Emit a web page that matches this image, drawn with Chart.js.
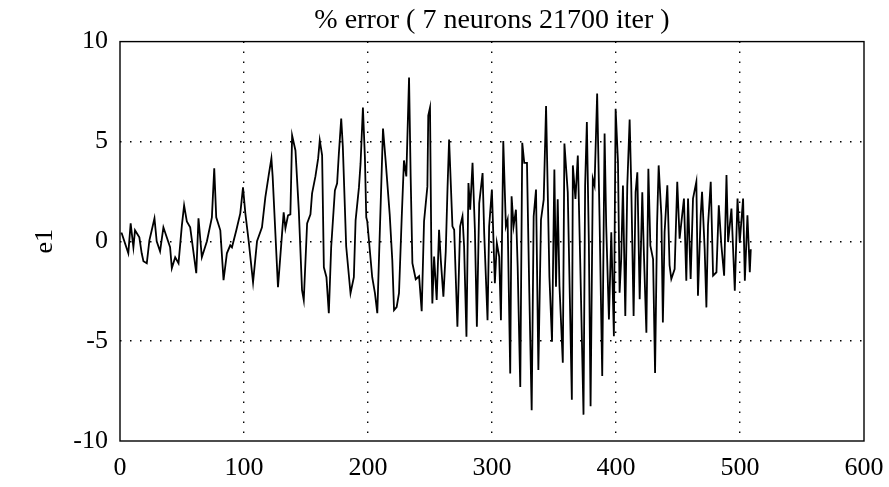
<!DOCTYPE html>
<html>
<head>
<meta charset="utf-8">
<script src="https://cdn.jsdelivr.net/npm/chart.js@4.4.1/dist/chart.umd.min.js"></script>
<style>
  html, body { margin: 0; padding: 0; background: #fff; }
  #wrap { width: 889px; height: 487px; position: relative; }
</style>
</head>
<body>
<div id="wrap"><canvas id="errChart"></canvas></div>
<script>
// sample index (x) and % error e1 at its turning points
const xValues = [
  0.5, 1.4, 2.7, 6.7, 8.6, 10.8, 12.1, 15.6, 17.5, 18.9, 21.6, 23.7, 25.6, 27.8, 29.6,
  32.3, 35.0, 37.7, 40.4, 41.8, 44.5, 47.2, 49.9, 51.7, 53.9, 56.6, 61.5, 63.3, 66.0, 70.1,
  74.1, 76.0, 77.6, 80.9, 83.5, 86.2, 88.9, 90.3, 93.8, 97.0, 99.2, 101.1, 103.8, 107.3, 110.5,
  114.5, 117.2, 119.9, 122.1, 123.1, 127.4, 130.7, 132.0, 133.4, 135.5, 137.4, 138.8, 141.5, 144.2, 146.8,
  148.2, 150.9, 153.6, 154.9, 157.6, 159.8, 161.1, 163.0, 164.4, 166.5, 168.4, 170.3, 173.3, 175.1, 176.5,
  178.4, 179.7, 182.4, 185.9, 188.6, 190.0, 192.7, 194.0, 195.9, 197.5, 198.6, 199.4, 203.4, 205.6, 207.5,
  212.1, 214.2, 217.5, 219.6, 221.0, 223.1, 225.0, 227.2, 229.0, 230.9, 233.1, 234.4, 235.8, 238.5, 241.2,
  243.3, 245.2, 247.9, 248.6, 250.0, 251.1, 251.9, 253.3, 255.4, 257.3, 258.7, 260.8, 262.7, 264.1, 265.4,
  268.1, 269.5, 272.1, 274.3, 276.2, 277.5, 279.4, 281.0, 282.4, 284.3, 286.2, 287.8, 289.7, 292.4, 293.7,
  296.4, 297.7, 299.9, 302.3, 303.9, 305.8, 307.2, 309.1, 311.2, 312.6, 314.7, 315.8, 317.4, 319.3, 320.7,
  322.8, 324.4, 326.0, 328.2, 330.1, 332.0, 333.6, 335.5, 337.4, 339.5, 341.7, 343.6, 346.3, 348.4, 350.3,
  351.6, 353.0, 354.4, 357.1, 358.4, 361.1, 364.4, 365.2, 367.3, 369.2, 371.1, 373.8, 375.1, 376.5, 378.1,
  379.5, 381.3, 382.7, 384.8, 386.7, 388.9, 390.8, 392.1, 394.3, 396.2, 398.3, 399.7, 401.6, 402.9, 404.2,
  405.6, 407.5, 409.1, 411.0, 412.3, 414.2, 415.8, 417.2, 419.1, 421.2, 422.3, 424.5, 426.1, 427.7, 429.9,
  431.5, 433.1, 434.4, 436.6, 437.8, 439.2, 441.4, 443.2, 444.6, 447.3, 449.4, 451.3, 454.8, 456.7, 458.1,
  460.2, 462.1, 464.8, 466.1, 468.3, 469.4, 471.5, 472.9, 474.2, 476.4, 478.3, 481.0, 482.9, 485.0, 487.2,
  489.1, 490.4, 493.1, 495.8, 498.0, 499.8, 502.5, 503.9, 506.0, 507.9, 508.7
];
const e1Values = [
  0.4, 0.4, 0.15, -0.6, 0.9, -0.3, 0.55, 0.2, -0.6, -1.0, -1.1, 0.05, 0.55, 1.15, 0.0,
  -0.5, 0.7, 0.2, -0.3, -1.35, -0.8, -1.1, 0.8, 1.8, 1.0, 0.7, -1.6, 1.15, -0.8, 0.0,
  1.2, 3.65, 1.2, 0.55, -1.95, -0.6, -0.2, -0.3, 0.55, 1.4, 2.7, 1.4, 0.0, -2.05, 0.0,
  0.7, 2.2, 3.3, 4.15, 3.25, -2.3, 0.4, 1.45, 0.65, 1.3, 1.35, 5.3, 4.55, 1.55, -2.45,
  -2.95, 0.9, 1.35, 2.4, 3.25, 4.15, 5.05, 4.3, -1.3, -1.8, -3.6, -0.3, 2.55, 2.9, 4.4,
  6.15, 4.75, -0.25, -2.6, -1.8, 1.05, 2.7, 3.9, 6.7, 4.2, 1.2, 1.0, -1.8, -2.6, -3.6,
  5.65, 4.05, 1.35, -0.95, -3.45, -3.3, -2.6, 1.2, 4.05, 3.25, 8.2, 3.25, -1.1, -1.9, -1.75,
  -3.5, 1.0, 2.75, 6.3, 6.69, -0.59, -3.11, -0.76, -2.94, 0.58, -0.93, -2.77, -0.51, 2.59, 5.1,
  0.75, 0.58, -4.28, 0.75, 1.25, -0.26, -4.78, 2.92, 1.58, 3.93, 0.58, -4.28, 1.9, 3.42, 0.41,
  -3.95, 0.75, 2.59, -2.1, -0.09, -0.76, -3.95, 5.02, 0.75, 1.08, -6.62, 2.25, 0.75, 1.58, -1.26,
  -7.29, 4.93, 3.93, 3.93, -2.6, -8.46, 1.25, 2.59, -6.45, 1.08, 2.09, 6.78, -1.77, -5.03, 3.59,
  -2.27, 2.1, -2.23, -6.08, 4.9, 2.46, -7.93, 3.8, 2.12, 4.3, -0.89, -8.68, 2.79, 5.97, -0.05,
  -8.26, 3.13, 2.79, 7.4, 1.28, -6.75, 5.4, 0.78, -3.91, 0.45, -4.75, 6.64, 3.96, -2.57, -0.89,
  2.79, -3.74, 2.79, 6.1, 2.79, -3.74, 2.46, 3.46, -2.9, 2.46, -0.22, -4.58, 3.63, -0.22, -0.89,
  -6.6, 0.78, 3.8, 1.28, -4.07, 0.47, 2.81, -1.2, -1.89, -1.39, 2.98, 0.13, 2.14, -1.97, 2.14,
  -1.89, 2.14, 2.98, -2.73, 1.3, 2.48, -0.38, -3.31, 0.8, 2.98, -1.72, -1.55, 1.8, -0.21, -1.72,
  3.32, -0.04, 1.64, -2.48, 2.14, -0.04, 2.14, -1.97, 1.3, -1.55, -0.4
];
const xTicks = [0, 100, 200, 300, 400, 500, 600];
const yTicks = [-10, -5, 0, 5, 10];
const titleText = '% error ( 7 neurons 21700 iter )';
const yLabel = 'e1';

const serif = "'Liberation Serif', 'Times New Roman', serif";

// solid box round the plot area, like the original axes frame
const frameBox = {
  id: 'frameBox',
  afterDatasetsDraw(chart) {
    const a = chart.chartArea;
    const ctx = chart.ctx;
    ctx.save();
    ctx.strokeStyle = '#000';
    ctx.lineWidth = 1.4;
    ctx.setLineDash([]);
    ctx.strokeRect(a.left, a.top, a.right - a.left, a.bottom - a.top);
    ctx.restore();
  }
};

const innerGrid = (ctx) => {
  const v = ctx.tick ? ctx.tick.value : null;
  const ends = ctx.scale.axis === 'x' ? [0, 600] : [-10, 10];
  return ends.includes(v) ? 'rgba(0,0,0,0)' : '#000';
};

const canvas = document.getElementById('errChart');
const chart = new Chart(canvas.getContext('2d'), {
  type: 'line',
  data: {
    datasets: [{
      label: yLabel,
      data: xValues.map((x, i) => ({ x: x, y: e1Values[i] })),
      borderColor: '#000',
      borderWidth: 1.8,
      pointRadius: 0,
      tension: 0,
      fill: false
    }]
  },
  options: {
    responsive: true,
    maintainAspectRatio: false,
    animation: false,
    devicePixelRatio: 1,
    layout: { padding: { left: 0, right: 25, top: 0, bottom: 0 } },
    plugins: {
      legend: { display: false },
      tooltip: { enabled: false },
      title: {
        display: true,
        fullSize: false,
        text: titleText,
        color: '#000',
        font: { family: serif, size: 28, weight: 'normal' },
        padding: { top: 4, bottom: 4 }
      }
    },
    scales: {
      x: {
        type: 'linear',
        min: 0,
        max: 600,
        afterBuildTicks: (s) => { s.ticks = xTicks.map(v => ({ value: v })); },
        afterFit: (s) => { s.height = 46; s.paddingLeft = 0; s.paddingRight = 0; },
        ticks: {
          color: '#000',
          font: { family: serif, size: 26 },
          padding: 12,
          maxRotation: 0
        },
        grid: { color: innerGrid, lineWidth: 1.4, drawTicks: false },
        border: { display: false, dash: [1.5, 8.5] }
      },
      y: {
        min: -10,
        max: 10,
        afterBuildTicks: (s) => { s.ticks = yTicks.map(v => ({ value: v })); },
        afterFit: (s) => { s.width = 120; },
        ticks: {
          color: '#000',
          font: { family: serif, size: 26 },
          padding: 12
        },
        grid: { color: innerGrid, lineWidth: 1.4, drawTicks: false },
        border: { display: false, dash: [1.5, 8.5] },
        title: {
          display: true,
          text: yLabel,
          color: '#000',
          font: { family: serif, size: 26 },
          padding: { top: 30, bottom: 0 }
        }
      }
    }
  },
  plugins: [frameBox]
});
</script>
</body>
</html>
